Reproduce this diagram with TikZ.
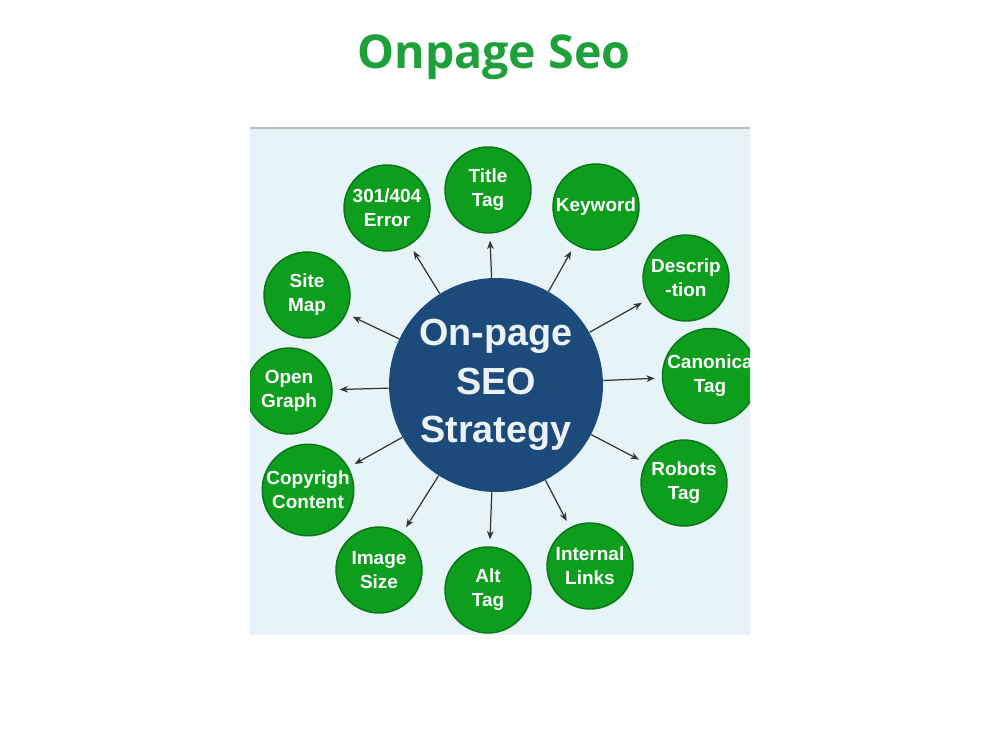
\documentclass[tikz,border=0pt]{standalone}
\usepackage{fontspec}
\setmainfont{Liberation Sans}
\newfontfamily\headfont{Open Sans}
\usetikzlibrary{arrows.meta}
\definecolor{leafgreen}{RGB}{12,158,28}
\definecolor{leafedge}{RGB}{8,118,22}
\definecolor{hubblue}{RGB}{28,74,122}
\definecolor{hubtext}{RGB}{236,241,244}
\definecolor{panelblue}{RGB}{230,244,248}
\definecolor{panelline}{RGB}{176,196,196}
\definecolor{linkgray}{RGB}{50,52,56}
\definecolor{headgreen}{RGB}{30,160,58}
\begin{document}
\begin{tikzpicture}[x=0.2mm,y=-0.2mm]
    \tikzstyle{topic}=[circle,fill=leafgreen,draw=leafedge,line width=0.8pt,minimum size=17.2mm,inner sep=0pt,align=center,text=white,font=\fontsize{10.8}{13.6}\selectfont\bfseries]
    \tikzstyle{hub}=[circle,fill=hubblue,minimum size=42.8mm,inner sep=0pt,align=center,text=hubtext,font=\fontsize{21.5}{27.5}\selectfont\bfseries]
    \tikzstyle{link}=[draw=linkgray,line width=0.7pt,-{Stealth[length=4.8pt,width=3.8pt]},shorten >=1.4mm]
    \useasboundingbox [fill=white] (0,0) rectangle (1000,750);
    \node (heading) at (494,57) [text=headgreen,font=\headfont\fontsize{26.5}{30}\selectfont\bfseries] {Onpage Seo};
    % panel
    \fill [panelblue] (250,128) rectangle (750,635);
    \draw [panelline,line width=1.2pt] (250,128) -- (750,128);
    \begin{scope}
    \clip (250,128) rectangle (750,635);
	\node (strategy) at (496,385) [hub] {On-page\\SEO\\Strategy};
	\node (title)     at (488,190) [topic] {Title\\Tag};
	\node (keyword)   at (596,207) [topic] {Keyword};
	\node (descr)     at (686,278) [topic] {Descrip\\-tion};
	\node (canonical) at (710,376) [topic] {Canonica\\Tag};
	\node (robots)    at (684,483) [topic] {Robots\\Tag};
	\node (internal)  at (590,566) [topic] {Internal\\Links};
	\node (alt)       at (488,590) [topic] {Alt\\Tag};
	\node (image)     at (379,570) [topic] {Image\\Size};
	\node (copyright) at (308,490) [topic] {Copyrigh\\Content};
	\node (opengraph) at (289,391) [topic] {Open\\Graph};
	\node (sitemap)   at (307,295) [topic] {Site\\Map};
	\node (error)     at (387,208) [topic] {301/404\\Error};
	\draw [link] (strategy) -- (title);
	\draw [link] (strategy) -- (keyword);
	\draw [link] (strategy) -- (descr);
	\draw [link] (strategy) -- (canonical);
	\draw [link] (strategy) -- (robots);
	\draw [link] (strategy) -- (internal);
	\draw [link] (strategy) -- (alt);
	\draw [link] (strategy) -- (image);
	\draw [link] (strategy) -- (copyright);
	\draw [link] (strategy) -- (opengraph);
	\draw [link] (strategy) -- (sitemap);
	\draw [link] (strategy) -- (error);
    \end{scope}
\end{tikzpicture}
\end{document}
